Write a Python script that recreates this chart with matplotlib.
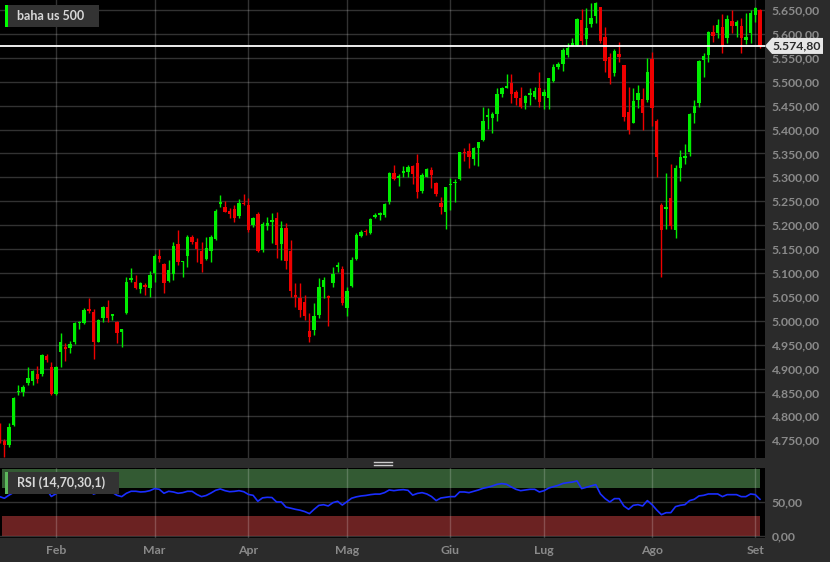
import numpy as np
import matplotlib
matplotlib.use("Agg")
import matplotlib.pyplot as plt
from matplotlib.patches import Rectangle, Polygon
import matplotlib.transforms as mtransforms

plt.rcParams['font.family'] = ['Lato', 'DejaVu Sans']

# ---------------- data (daily bars, 16 Jan 2024 -> 3 Sep 2024) ----------------
opens = [4781.8, 4748.3, 4740.0, 4781.8, 4850.0, 4851.5, 4869.0, 4873.9, 4887.8, 4887.8,
         4926.1, 4902.5, 4846.7, 4933.8, 4945.7, 4943.6, 4954.7, 4995.0, 4994.5, 5025.0,
         5018.9, 4956.1, 5006.3, 5028.0, 5010.5, 4996.6, 4976.4, 5015.4, 5085.1, 5080.3,
         5065.6, 5074.7, 5067.7, 5099.1, 5135.3, 5118.6, 5083.8, 5097.0, 5160.0, 5122.0,
         5135.0, 5175.0, 5165.0, 5146.6, 5128.4, 5146.6, 5171.0, 5244.2, 5238.6, 5229.6,
         5233.0, 5219.8, 5247.0, 5242.1, 5200.3, 5222.6, 5148.0, 5198.2, 5205.8, 5214.2,
         5160.5, 5194.7, 5145.9, 5053.8, 5048.3, 5039.9, 4979.2, 4980.6, 5012.0, 5071.3,
         5052.4, 5078.2, 5111.7, 5107.5, 5025.9, 5072.7, 5129.1, 5177.3, 5187.7, 5182.8,
         5216.3, 5221.2, 5221.2, 5249.0, 5310.0, 5298.0, 5310.0, 5310.4, 5324.4, 5329.2,
         5272.0, 5301.3, 5315.3, 5287.4, 5245.6, 5226.7, 5283.0, 5287.6, 5295.8, 5353.6,
         5355.7, 5337.6, 5360.6, 5378.0, 5425.5, 5425.0, 5431.7, 5473.6, 5487.5, 5496.6,
         5477.8, 5465.2, 5454.7, 5471.5, 5468.7, 5487.5, 5470.8, 5465.2, 5502.2, 5530.0,
         5537.0, 5555.8, 5575.4, 5576.8, 5629.1, 5588.6, 5620.7, 5637.4, 5655.6, 5594.2,
         5551.0, 5518.9, 5557.2, 5534.9, 5435.9, 5414.3, 5461.7, 5463.8, 5461.7, 5546.8,
         5418.5, 5242.1, 5233.0, 5256.0, 5189.8, 5318.8, 5340.0, 5353.6, 5433.8, 5454.7,
         5545.0, 5555.8, 5604.6, 5601.2, 5613.7, 5590.7, 5627.7, 5617.2, 5617.2, 5587.2,
         5601.2, 5639.5, 5650.0]
highs = [4786.0, 4751.8, 4785.3, 4841.0, 4866.0, 4865.5, 4902.5, 4896.9, 4905.2, 4930.3,
         4930.3, 4912.9, 4905.2, 4973.6, 4954.0, 4956.8, 4998.0, 5000.4, 5027.3, 5046.8,
         5023.8, 5002.9, 5030.8, 5043.3, 5013.3, 4999.4, 4981.9, 5092.1, 5109.5, 5095.6,
         5080.3, 5078.2, 5104.7, 5139.5, 5149.0, 5121.4, 5127.0, 5165.0, 5190.0, 5125.0,
         5179.0, 5180.0, 5172.0, 5164.0, 5174.5, 5179.3, 5233.0, 5263.0, 5251.2, 5235.1,
         5242.1, 5254.0, 5265.1, 5256.0, 5218.0, 5228.0, 5207.0, 5217.7, 5224.7, 5226.8,
         5209.3, 5203.8, 5168.9, 5078.2, 5078.2, 5053.8, 5016.9, 5037.8, 5088.7, 5092.2,
         5053.8, 5111.7, 5123.6, 5114.5, 5071.3, 5134.0, 5182.8, 5189.8, 5191.2, 5214.2,
         5224.7, 5228.2, 5247.0, 5312.0, 5325.0, 5307.0, 5323.6, 5325.7, 5325.7, 5348.1,
         5308.3, 5318.8, 5320.9, 5290.9, 5258.1, 5280.4, 5297.9, 5295.8, 5353.6, 5360.6,
         5372.5, 5362.7, 5374.6, 5446.4, 5444.3, 5436.0, 5486.1, 5489.6, 5515.4, 5515.4,
         5482.6, 5488.2, 5472.2, 5486.1, 5488.2, 5519.6, 5484.0, 5508.4, 5537.0, 5541.9,
         5569.8, 5580.3, 5590.7, 5632.6, 5651.4, 5653.5, 5663.9, 5667.4, 5657.0, 5613.7,
         5559.3, 5567.7, 5582.3, 5535.0, 5488.2, 5486.1, 5493.0, 5486.1, 5548.9, 5562.8,
         5421.3, 5247.0, 5309.7, 5327.8, 5325.7, 5357.1, 5369.7, 5435.2, 5461.7, 5545.4,
         5559.3, 5606.0, 5618.6, 5631.2, 5640.9, 5639.5, 5650.0, 5629.1, 5632.6, 5643.0,
         5650.0, 5655.6, 5652.0]
lows = [4745.0, 4714.2, 4736.5, 4779.7, 4844.0, 4843.0, 4865.5, 4865.5, 4870.4, 4884.3,
        4914.3, 4845.0, 4844.6, 4903.9, 4916.4, 4933.1, 4950.6, 4982.6, 4993.1, 5016.0,
        4919.2, 4954.7, 4998.0, 4998.0, 5001.5, 4954.0, 4945.7, 5014.0, 5081.7, 5065.6,
        5057.3, 5053.8, 5050.3, 5080.3, 5123.5, 5057.3, 5080.3, 5085.0, 5116.5, 5090.7,
        5113.0, 5160.0, 5122.0, 5102.6, 5127.0, 5123.6, 5168.9, 5238.6, 5226.8, 5214.2,
        5205.8, 5214.2, 5242.1, 5184.9, 5197.0, 5144.5, 5144.5, 5189.8, 5162.0, 5130.5,
        5127.0, 5107.5, 5050.4, 5029.4, 5007.1, 5001.5, 4954.8, 4970.2, 5005.0, 5046.9,
        4989.7, 5071.3, 5102.6, 5032.9, 5009.9, 5071.3, 5127.0, 5175.9, 5179.3, 5181.4,
        5214.2, 5210.7, 5217.7, 5245.0, 5294.0, 5282.0, 5301.3, 5300.0, 5286.0, 5256.0,
        5267.9, 5300.0, 5278.4, 5261.6, 5222.6, 5191.2, 5231.6, 5249.0, 5294.4, 5334.1,
        5318.8, 5325.7, 5324.3, 5376.6, 5401.1, 5392.0, 5418.5, 5468.7, 5486.1, 5454.7,
        5451.3, 5444.3, 5442.9, 5451.3, 5463.1, 5447.8, 5442.9, 5442.2, 5500.1, 5526.6,
        5523.1, 5552.4, 5574.7, 5575.4, 5576.8, 5575.4, 5615.1, 5622.1, 5581.6, 5521.0,
        5494.5, 5511.9, 5541.9, 5418.5, 5389.9, 5412.9, 5444.3, 5399.0, 5458.2, 5407.3,
        5300.0, 5090.7, 5191.2, 5191.2, 5173.7, 5292.9, 5327.1, 5344.6, 5414.3, 5446.4,
        5510.5, 5540.5, 5583.7, 5590.7, 5559.3, 5581.6, 5601.2, 5594.2, 5559.3, 5578.2,
        5580.3, 5625.6, 5570.0]
closes = [4747.0, 4740.0, 4778.3, 4837.6, 4853.0, 4862.0, 4879.4, 4895.5, 4878.7, 4928.3,
          4917.8, 4846.7, 4903.9, 4956.1, 4940.1, 4951.3, 4994.5, 4998.0, 5022.4, 5021.0,
          4954.7, 5001.5, 5028.0, 5004.9, 5013.3, 4975.0, 4981.9, 5081.7, 5088.6, 5069.1,
          5078.2, 5069.8, 5095.6, 5135.3, 5128.4, 5078.2, 5106.0, 5157.0, 5123.5, 5124.9,
          5175.0, 5165.0, 5150.0, 5118.7, 5151.5, 5174.5, 5230.3, 5249.0, 5228.2, 5222.6,
          5214.2, 5247.0, 5244.2, 5190.0, 5214.2, 5146.6, 5201.7, 5205.2, 5210.7, 5158.4,
          5194.7, 5125.0, 5062.9, 5049.0, 5022.4, 5009.9, 4966.7, 5010.6, 5069.9, 5085.2,
          5046.9, 5097.1, 5116.6, 5036.4, 5062.2, 5127.0, 5179.3, 5186.3, 5184.9, 5212.1,
          5221.2, 5224.7, 5244.2, 5308.0, 5297.0, 5303.0, 5313.2, 5322.3, 5306.2, 5268.6,
          5304.8, 5316.7, 5304.8, 5265.1, 5237.2, 5279.0, 5286.0, 5290.0, 5352.2, 5350.2,
          5343.2, 5360.6, 5373.2, 5418.5, 5430.3, 5431.6, 5473.6, 5486.1, 5491.7, 5473.6,
          5465.2, 5446.4, 5470.1, 5476.4, 5480.5, 5458.2, 5477.8, 5507.0, 5531.5, 5537.0,
          5566.3, 5569.8, 5580.3, 5631.2, 5585.8, 5611.6, 5632.6, 5663.9, 5585.8, 5543.3,
          5507.0, 5564.2, 5552.4, 5426.8, 5398.9, 5459.6, 5477.0, 5433.8, 5521.0, 5444.3,
          5343.2, 5189.8, 5238.6, 5198.1, 5318.8, 5341.8, 5345.0, 5432.4, 5449.8, 5543.3,
          5553.0, 5604.6, 5595.6, 5618.6, 5575.4, 5631.2, 5617.2, 5624.2, 5590.7, 5592.8,
          5644.4, 5653.5, 5574.8]
rsi = [57.8, 55.4, 60.0, 64.0, 64.0, 65.0, 66.0, 67.0, 66.0, 69.0,
       68.0, 58.0, 62.0, 66.0, 64.0, 65.0, 67.0, 68.0, 69.0, 68.0,
       61.5, 64.0, 66.0, 63.0, 64.0, 59.7, 57.8, 62.7, 65.6, 65.6,
       64.6, 65.0, 66.5, 69.5, 68.5, 62.7, 65.6, 64.6, 62.7, 63.6,
       65.6, 65.5, 61.0, 57.8, 59.5, 63.0, 67.0, 69.0, 66.5, 65.0,
       65.5, 66.5, 65.0, 61.0, 59.7, 51.0, 56.0, 56.8, 56.5, 50.0,
       50.0, 42.5, 41.0, 39.3, 38.0, 36.0, 33.0, 39.3, 45.0, 46.0,
       44.2, 49.0, 51.0, 45.5, 50.5, 55.5, 57.5, 58.8, 59.5, 60.7,
       61.5, 61.5, 63.6, 67.5, 66.5, 67.5, 68.0, 67.0, 60.0, 62.5,
       63.6, 61.7, 58.0, 52.0, 55.8, 56.8, 57.8, 57.8, 64.6, 64.6,
       63.6, 65.6, 67.5, 70.0, 71.4, 73.4, 75.8, 76.8, 75.8, 72.0,
       68.5, 66.5, 67.5, 68.5, 68.5, 64.6, 66.5, 70.4, 72.4, 74.3,
       77.0, 78.2, 79.0, 80.7, 69.5, 71.4, 73.4, 75.3, 61.7, 54.9,
       50.0, 54.9, 54.9, 44.2, 39.3, 45.1, 46.1, 44.2, 52.0, 46.1,
       38.3, 31.5, 34.4, 34.4, 43.2, 45.1, 46.1, 52.0, 53.9, 58.8,
       59.7, 61.7, 61.7, 61.7, 57.8, 60.7, 60.7, 60.7, 57.8, 57.8,
       61.7, 60.7, 53.9]
month_labels = ['Feb', 'Mar', 'Apr', 'Mag', 'Giu', 'Lug', 'Ago', 'Set']
month_index = [12, 33, 53, 74, 96, 116, 139, 161]
price_ticks = [4750, 4800, 4850, 4900, 4950, 5000, 5050, 5100, 5150, 5200,
               5250, 5300, 5350, 5400, 5450, 5500, 5550, 5600, 5650]
rsi_ticks = [0, 50]
last_price = closes[-1]
title = 'baha us 500'
rsi_title = 'RSI (14,70,30,1)'

# ---------------- style ----------------
W, H = 830, 562
BG = '#2b2b2b'
GREEN = '#00ee00'
RED = '#ee0000'
LABEL = '#8a8a8a'
FS = 8.8


def fmt(v):
    s = f"{v:,.2f}"
    return s.replace(',', 'X').replace('.', ',').replace('X', '.')


fig = plt.figure(figsize=(W / 100, H / 100), dpi=100, facecolor=BG)

plot_w = 765 / W
main_top, main_bot = 0, 458
rsi_top, rsi_bot = 467.7, 538

ax = fig.add_axes([0, 1 - main_bot / H, plot_w, (main_bot - main_top) / H])
ax2 = fig.add_axes([0, 1 - rsi_bot / H, plot_w, (rsi_bot - rsi_top) / H])

x = np.arange(len(closes))
o = np.array(opens); c = np.array(closes); hi = np.array(highs); lo = np.array(lows)
col = np.where(c >= o, GREEN, RED)

xmin, xmax = 0.064, 163.07
for a in (ax, ax2):
    a.set_facecolor('black')
    a.set_xlim(xmin, xmax)
    for s in a.spines.values():
        s.set_visible(False)
    a.set_xticks(month_index)
    a.tick_params(axis='both', length=0)

# main panel
ax.set_ylim(5650 - (main_bot - 10) * 2.092, 5650 + 10 * 2.092)
ax.set_yticks(price_ticks)
ax.set_yticklabels([fmt(v) for v in price_ticks])
ax.yaxis.tick_right()
ax.tick_params(axis='y', colors=LABEL, labelsize=FS, pad=5)
for lab in ax.get_yticklabels():
    lab.set_fontweight('bold')
ax.set_xticklabels([])
ax.grid(True, color='white', alpha=0.2, lw=1.0, zorder=1)
ax.set_axisbelow(True)

ax.vlines(x, lo, hi, colors=col, lw=1.0, zorder=3)
ax.bar(x, np.maximum(np.abs(c - o), 1.5), bottom=np.minimum(o, c), width=0.72,
       color=col, linewidth=0, zorder=4)
ax.axhline(last_price, color='white', lw=1.3, zorder=5)

# price tag
bt = mtransforms.blended_transform_factory(ax.transAxes, ax.transData)
hh = 8 * 2.092
tip = 7 / 765
wtag = 58 / 765
tag = Polygon([(1.0, last_price), (1.0 + tip, last_price + hh), (1.0 + wtag, last_price + hh),
               (1.0 + wtag, last_price - hh), (1.0 + tip, last_price - hh)],
              closed=True, transform=bt, facecolor='#e6e6e6', edgecolor='none',
              clip_on=False, zorder=10)
ax.add_patch(tag)
ax.text(1.0 + 7.5 / 765, last_price, fmt(last_price), transform=bt, ha='left', va='center',
        fontsize=FS, fontweight='bold', color='#2a2a2a', clip_on=False, zorder=11)

# RSI panel
ax2.set_ylim(-2.55, 100.0)
ax2.fill_between([0.43, 162.1], 70, 97.7, color='#335a33', lw=0, zorder=1)
ax2.fill_between([0.43, 162.1], 0, 30, color='#6b2222', lw=0, zorder=1)
ax2.set_yticks(rsi_ticks)
ax2.set_yticklabels([fmt(v) for v in rsi_ticks])
ax2.yaxis.tick_right()
ax2.tick_params(axis='y', colors=LABEL, labelsize=FS, pad=5)
ax2.tick_params(axis='x', colors=LABEL, labelsize=FS, pad=5)
ax2.set_xticklabels(month_labels)
for lab in ax2.get_yticklabels() + ax2.get_xticklabels():
    lab.set_fontweight('bold')
ax2.grid(True, color='white', alpha=0.2, lw=1.0, zorder=2)
ax2.set_axisbelow(False)
ax2.plot(x, rsi, color='#1a2eff', lw=1.2, zorder=3)

# overlay for label boxes and separator handle
ov = fig.add_axes([0, 0, 1, 1])
ov.set_xlim(0, W)
ov.set_ylim(H, 0)
ov.axis('off')
ov.patch.set_alpha(0)
ov.add_patch(Rectangle((5, 5), 94, 22, facecolor='#333333', edgecolor='none'))
ov.add_patch(Rectangle((5, 5), 3.2, 22, facecolor='#00ff00', edgecolor='none'))
ov.text(17, 16.5, title, fontsize=9, fontweight='bold', color='#d8d8d8', va='center', ha='left')
ov.add_patch(Rectangle((5, 471.7), 114, 22.5, facecolor='#333333', edgecolor='none'))
ov.add_patch(Rectangle((5, 471.7), 3.2, 22.5, facecolor='#5cb85c', edgecolor='none'))
ov.text(17, 483, rsi_title, fontsize=9, fontweight='bold', color='#d8d8d8', va='center', ha='left')
ov.plot([374, 392], [461.5, 461.5], color='#cccccc', lw=1)
ov.plot([374, 392], [464.5, 464.5], color='#cccccc', lw=1)

fig.savefig('out.png', dpi=100, facecolor=BG)
